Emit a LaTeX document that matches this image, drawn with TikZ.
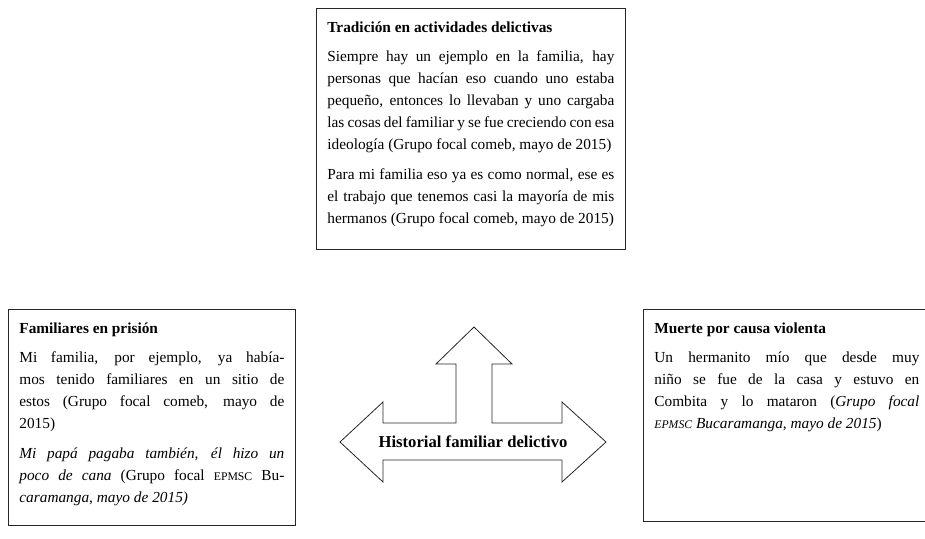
\documentclass[tikz,border=0pt]{standalone}
\usepackage{fontspec}
\setmainfont{Liberation Serif}
\usetikzlibrary{positioning}

% small caps faked with a smaller size
\newcommand{\siglas}[1]{{\fontsize{8.8pt}{10pt}\selectfont #1}}
\newcommand{\cajatexto}[3]{\parbox[t][#1][t]{#2}{\fontsize{11.5pt}{16.5pt}\selectfont
  \setlength{\parskip}{5.5pt}#3}}

\begin{document}
\begin{tikzpicture}[x=0.75pt, y=-0.75pt,
  recuadro/.style={draw=black!85, line width=0.6pt, anchor=north west,
    inner xsep=8.25pt, inner ysep=10pt},
  flecha/.style={draw=black!85, line width=0.6pt, line join=miter}]

  \useasboundingbox (0,0) rectangle (925,539);
  \clip (0,0) rectangle (925,539);

  % Define the three boxes
  \node[recuadro] (tradicion) at (316,8) {\cajatexto{160.75pt}{215.25pt}{%
    \textbf{Tradición en actividades delictivas}\par
    Siempre hay un ejemplo en la familia, hay\linebreak
    personas que hacían eso cuando uno estaba\linebreak
    pequeño, entonces lo llevaban y uno cargaba\linebreak
    las cosas del familiar y se fue creciendo con esa\linebreak
    ideología (Grupo focal comeb, mayo de 2015)\par
    Para mi familia eso ya es como normal, ese es\linebreak
    el trabajo que tenemos casi la mayoría de mis\linebreak
    hermanos (Grupo focal comeb, mayo de 2015)}};
  \node[recuadro] (prision) at (8,309) {\cajatexto{142pt}{198.75pt}{%
    \textbf{Familiares en prisión}\par
    Mi familia, por ejemplo, ya había-\linebreak
    mos tenido familiares en un sitio de\linebreak
    estos (Grupo focal comeb, mayo de\linebreak
    2015)\par
    \textit{Mi papá pagaba también, él hizo un\linebreak
    poco de cana} (Grupo focal \siglas{EPMSC} Bu-\linebreak
    \textit{caramanga, mayo de 2015)}}};
  \node[recuadro] (muerte) at (643,309) {\cajatexto{139pt}{198.75pt}{%
    \textbf{Muerte por causa violenta}\par
    Un hermanito mío que desde muy\linebreak
    niño se fue de la casa y estuvo en\linebreak
    Combita y lo mataron (\textit{Grupo focal}\linebreak
    \textit{\siglas{EPMSC} Bucaramanga, mayo de 2015})}};

  % Draw the three-way arrow
  \draw[flecha] (340,442) -- (383,402) -- (383,423) -- (456,423) -- (456,364)
    -- (436,364) -- (474,327) -- (512,364) -- (492,364) -- (492,423)
    -- (562,423) -- (562,402) -- (606,442) -- (562,482) -- (562,460)
    -- (383,460) -- (383,482) -- cycle;
  \node[font=\fontsize{12.5pt}{14pt}\selectfont\bfseries] (historial) at (473,442)
    {Historial familiar delictivo};
\end{tikzpicture}
\end{document}
